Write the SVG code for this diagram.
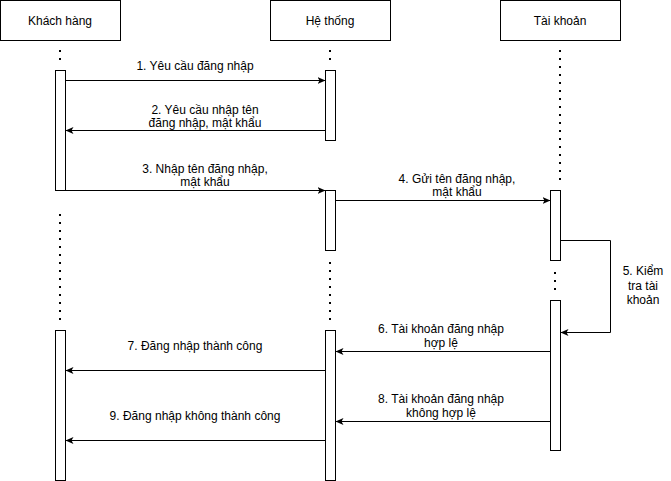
<svg xmlns="http://www.w3.org/2000/svg" width="671" height="481" viewBox="0 0 671 481">
<defs>
<style>
.box{fill:#fff;stroke:#000;stroke-width:1}
.act{fill:#fff;stroke:#000;stroke-width:1}
.life{fill:none;stroke:#000;stroke-width:2;stroke-dasharray:2 6}
.msg{fill:none;stroke:#000;stroke-width:1}
text{font-family:"Liberation Sans",Arial,Helvetica,sans-serif;font-size:12px;fill:#000;text-anchor:middle}
</style>
<marker id="arr" markerUnits="userSpaceOnUse" markerWidth="10" markerHeight="10" refX="8" refY="3.5" orient="auto">
<path d="M0,0 L8,3.5 L0,7 L2,3.5 Z" fill="#000"/>
</marker>
</defs>
<rect width="671" height="481" fill="#fff"/>

<g id="lifelines">
<line class="life" x1="60" y1="50" x2="60" y2="63"/>
<line class="life" x1="60" y1="214" x2="60" y2="323"/>
<line class="life" x1="330" y1="50" x2="330" y2="63"/>
<line class="life" x1="330" y1="262" x2="330" y2="323"/>
<line class="life" x1="560" y1="50" x2="560" y2="183"/>
<line class="life" x1="555" y1="272" x2="555" y2="291"/>
</g>

<g id="khach-hang">
<rect class="box" x="0.5" y="0.5" width="120" height="40"/>
<text x="60" y="24.5">Khách hàng</text>
</g>
<g id="he-thong">
<rect class="box" x="270.5" y="0.5" width="120" height="40"/>
<text x="330" y="24.5">Hệ thống</text>
</g>
<g id="tai-khoan">
<rect class="box" x="500.5" y="0.5" width="120" height="40"/>
<text x="560" y="24.5">Tài khoản</text>
</g>

<g id="act-kh-1"><rect class="act" x="55.5" y="70.5" width="10" height="120"/></g>
<g id="act-kh-2"><rect class="act" x="55.5" y="330.5" width="10" height="150"/></g>
<g id="act-ht-1"><rect class="act" x="325.5" y="70.5" width="10" height="70"/></g>
<g id="act-ht-2"><rect class="act" x="325.5" y="190.5" width="10" height="60"/></g>
<g id="act-ht-3"><rect class="act" x="325.5" y="330.5" width="10" height="150"/></g>
<g id="act-tk-1"><rect class="act" x="550.5" y="190.5" width="10" height="70"/></g>
<g id="act-tk-2"><rect class="act" x="550.5" y="300.5" width="10" height="150"/></g>

<g id="connectors">
<line class="msg" x1="65.5" y1="80.5" x2="325.5" y2="80.5" marker-end="url(#arr)"/>
<line class="msg" x1="325.5" y1="130.5" x2="65.5" y2="130.5" marker-end="url(#arr)"/>
<line class="msg" x1="55.5" y1="190.5" x2="325.5" y2="190.5" marker-end="url(#arr)"/>
<line class="msg" x1="335.5" y1="200.5" x2="550.5" y2="200.5" marker-end="url(#arr)"/>
<polyline class="msg" points="560.5,240.5 610.5,240.5 610.5,332.5 560.5,332.5" marker-end="url(#arr)"/>
<line class="msg" x1="550.5" y1="351.5" x2="335.5" y2="351.5" marker-end="url(#arr)"/>
<line class="msg" x1="325.5" y1="370.5" x2="65.5" y2="370.5" marker-end="url(#arr)"/>
<line class="msg" x1="550.5" y1="421.5" x2="335.5" y2="421.5" marker-end="url(#arr)"/>
<line class="msg" x1="325.5" y1="440.5" x2="65.5" y2="440.5" marker-end="url(#arr)"/>
</g>

<g id="labels">
<text x="195" y="70">1. Yêu cầu đăng nhập</text>
<text x="205" y="113.5">2. Yêu cầu nhập tên</text>
<text x="205" y="127">đăng nhập, mật khẩu</text>
<text x="205" y="172.5">3. Nhập tên đăng nhập,</text>
<text x="205" y="186">mật khẩu</text>
<text x="457" y="182.5">4. Gửi tên đăng nhập,</text>
<text x="457" y="196">mật khẩu</text>
<text x="643" y="275">5. Kiểm</text>
<text x="643" y="289.5">tra tài</text>
<text x="643" y="304">khoản</text>
<text x="441" y="333">6. Tài khoản đăng nhập</text>
<text x="441" y="347">hợp lệ</text>
<text x="195" y="350">7. Đăng nhập thành công</text>
<text x="441" y="403">8. Tài khoản đăng nhập</text>
<text x="441" y="417">không hợp lệ</text>
<text x="195" y="420">9. Đăng nhập không thành công</text>
</g>
</svg>
